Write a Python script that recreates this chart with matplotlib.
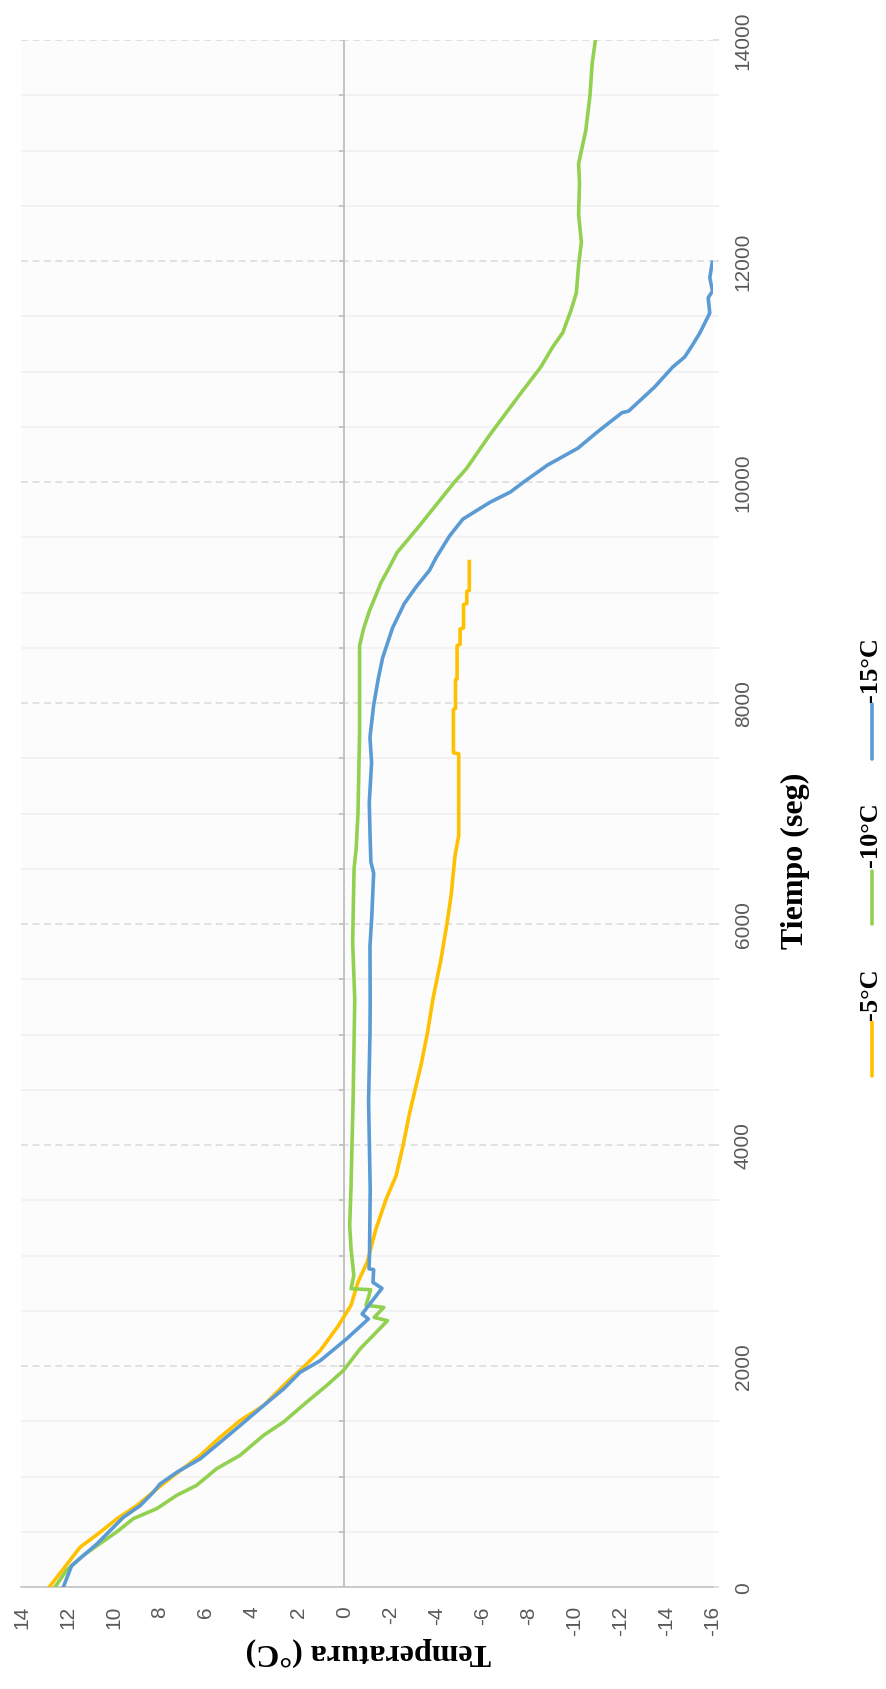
import matplotlib
matplotlib.use("Agg")
import matplotlib.pyplot as plt
from matplotlib.lines import Line2D
import numpy as np

plt.rcParams["font.family"] = ["Liberation Sans", "DejaVu Sans"]

# Temperature curves (tiempo en seg, temperatura en grados C)
t_5 = [0, 163, 359, 495, 615, 736, 887, 1008, 1189, 1355, 1505, 1641, 1852, 1988,
       2139, 2365, 2550, 2760, 2940, 3240, 3510, 3720, 3990, 4300, 4720, 5020, 5320,
       5680, 5990, 6260, 6620, 6800, 7540, 7550, 7940, 7950, 8210, 8220, 8520, 8530,
       8670, 8680, 8890, 8900, 9010, 9020, 9280]
temp_5 = [12.79, 12.18, 11.46, 10.59, 9.87, 9.0, 8.13, 7.4, 6.25, 5.38, 4.52, 3.5, 2.49,
          1.77, 1.04, 0.25, -0.3, -0.6, -1.0, -1.38, -1.82, -2.25, -2.55, -2.85, -3.33,
          -3.62, -3.85, -4.2, -4.45, -4.64, -4.81, -4.97, -4.97, -4.74, -4.74, -4.83,
          -4.83, -4.9, -4.9, -5.03, -5.03, -5.18, -5.18, -5.32, -5.32, -5.43, -5.43]

t_10 = [0, 151, 287, 393, 498, 619, 709, 830, 920, 1071, 1191, 1372, 1493, 1674, 1825,
        1960, 2157, 2410, 2440, 2530, 2550, 2690, 2700, 2820, 3060, 3270, 3630, 4000,
        4420, 5320, 5830, 6075, 6500, 6680, 7000, 7735, 8520, 8670, 8830, 9090, 9200,
        9360, 9600, 9790, 10000, 10120, 10430, 10800, 11040, 11220, 11350, 11560,
        11710, 11960, 12170, 12420, 12710, 12880, 13180, 13490, 13790, 14000]
temp_10 = [12.54, 12.04, 11.31, 10.59, 9.87, 9.14, 8.13, 7.26, 6.4, 5.53, 4.52, 3.5, 2.63,
           1.62, 0.75, 0.03, -0.7, -1.88, -1.3, -1.72, -0.95, -1.15, -0.3, -0.42, -0.3,
           -0.24, -0.3, -0.34, -0.39, -0.46, -0.37, -0.39, -0.43, -0.52, -0.6, -0.67,
           -0.67, -0.84, -1.09, -1.6, -1.89, -2.29, -3.25, -3.98, -4.79, -5.3, -6.33,
           -7.65, -8.53, -9.04, -9.48, -9.85, -10.07, -10.17, -10.29, -10.17, -10.21,
           -10.17, -10.48, -10.66, -10.76, -10.9]

t_15 = [0, 193, 389, 630, 736, 857, 932, 1038, 1159, 1309, 1460, 1641, 1792, 1943,
        2048, 2244, 2426, 2471, 2703, 2757, 2872, 2880, 3000, 3600, 4400, 5000, 5321,
        5800, 6075, 6460, 6560, 6830, 7100, 7460, 7690, 7980, 8220, 8410, 8680, 8900,
        9050, 9200, 9312, 9511, 9664, 9817, 9908, 10000, 10153, 10306, 10459, 10627,
        10642, 10856, 11040, 11131, 11223, 11345, 11529, 11667, 11728, 11850, 11988]
temp_15 = [12.18, 11.82, 10.73, 9.58, 8.85, 8.28, 7.99, 7.26, 6.25, 5.38, 4.52, 3.5, 2.63,
           1.91, 1.04, -0.1, -1.05, -0.78, -1.64, -1.25, -1.28, -1.08, -1.1, -1.13,
           -1.06, -1.12, -1.13, -1.12, -1.2, -1.28, -1.16, -1.12, -1.09, -1.19, -1.12,
           -1.28, -1.48, -1.67, -2.1, -2.61, -3.12, -3.7, -3.98, -4.57, -5.15, -6.33,
           -7.2, -7.79, -8.82, -10.14, -11.02, -12.05, -12.34, -13.45, -14.25, -14.77,
           -15.06, -15.42, -15.86, -15.79, -15.98, -15.86, -15.97]

series_names = ["-5°C", "-10°C", "-15°C"]
series_colors = ["#FFC000", "#92D050", "#5B9BD5"]

temp_ticks = list(range(14, -17, -2))
time_ticks = list(range(0, 14001, 2000))
time_minor = list(range(0, 14001, 500))

serif = ["Liberation Serif", "DejaVu Serif"]

fig = plt.figure(figsize=(8.87, 16.90), dpi=100)
ax = fig.add_axes([21.4 / 887, 1 - 1588 / 1690, (713 - 21.4) / 887, (1588 - 41) / 1690])
ax.set_facecolor("#fcfcfc")

# chart is laid on its side: temperature runs across, time runs up
for t, temp, color in zip([t_5, t_10, t_15], [temp_5, temp_10, temp_15], series_colors):
    ax.plot(temp, t, color=color, lw=2.6, solid_joinstyle="round", zorder=3)

ax.set_xlim(14, -16)
ax.set_ylim(0, 14000)

# the temperature zero line with its small ticks
ax.axvline(0, color="#bfbfbf", lw=1.3, zorder=2)
ax.hlines(time_minor, 0, 0.22, color="#bfbfbf", lw=1.2, zorder=2)

ax.set_xticks(temp_ticks)
ax.set_xticklabels([str(v) for v in temp_ticks])
ax.tick_params(axis="x", length=0, pad=13, labelsize=15, labelcolor="#595959")
plt.setp(ax.get_xticklabels(), rotation=90, ha="center", va="top")

ax.yaxis.tick_right()
ax.set_yticks(time_ticks)
ax.set_yticks(time_minor, minor=True)
ax.set_yticklabels([str(v) for v in time_ticks])
ax.tick_params(axis="y", which="major", length=4, width=1.1, color="#d9d9d9",
               pad=11, labelsize=15, labelcolor="#595959")
ax.tick_params(axis="y", which="minor", length=4, width=1.1, color="#eeeeee")
plt.setp(ax.get_yticklabels(), rotation=90, ha="left", va="center")

ax.grid(True, axis="y", which="major", color="#d9d9d9", lw=1.1, linestyle=(0, (4.5, 3)))
ax.grid(True, axis="y", which="minor", color="#f0f0f0", lw=1.1)
ax.set_axisbelow(True)

for side in ["top", "left", "right"]:
    ax.spines[side].set_visible(False)
ax.spines["bottom"].set_color("#bfbfbf")
ax.spines["bottom"].set_linewidth(1.1)

# axis titles
fig.text(795 / 887, 1 - 861 / 1690, "Tiempo (seg)", rotation=90, ha="center", va="center",
         fontsize=23, fontweight="bold", family=serif)
fig.text(368 / 887, 1 - 1652 / 1690, "Temperatura (°C)", rotation=180, ha="center",
         va="center", fontsize=23, fontweight="bold", family=serif)

# legend drawn sideways next to the time title
legend_lines = [(1023, 1077), (872, 925), (705, 760)]
legend_text_y = [994, 835, 670]
for name, color, (y0, y1), ty in zip(series_names, series_colors, legend_lines, legend_text_y):
    fig.add_artist(Line2D([872 / 887, 872 / 887], [1 - y0 / 1690, 1 - y1 / 1690],
                          transform=fig.transFigure, color=color, lw=2.6,
                          solid_capstyle="round"))
    fig.text(871 / 887, 1 - ty / 1690, name, rotation=90, ha="center", va="center",
             fontsize=19, fontweight="bold", family=serif)

fig.savefig("out.png", dpi=100)
